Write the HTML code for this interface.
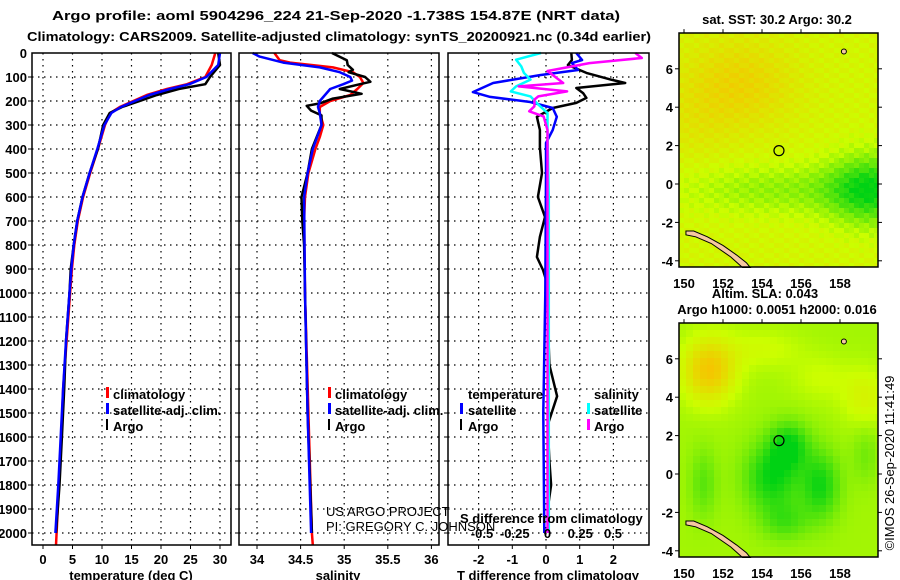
<!DOCTYPE html>
<html><head><meta charset="utf-8">
<style>
html,body{margin:0;padding:0;background:#fff;}
svg{display:block;font-family:"Liberation Sans",sans-serif;}
.b{font-weight:bold;font-size:13px;}
</style></head>
<body>
<svg id="chart" width="900" height="580" viewBox="0 0 900 580" xmlns="http://www.w3.org/2000/svg">
<text x="52" y="20" class="b" font-size="14" textLength="568" lengthAdjust="spacingAndGlyphs">Argo profile: aoml 5904296_224 21-Sep-2020 -1.738S 154.87E (NRT data)</text>
<text x="27" y="41" class="b" font-size="14" textLength="624" lengthAdjust="spacingAndGlyphs">Climatology: CARS2009. Satellite-adjusted climatology: synTS_20200921.nc (0.34d earlier)</text>
<g id="grid"></g>
<g id="marks"></g>
<g id="frames"></g>
<g id="labels"></g>
<g id="maps"></g>
<g class="b">
<rect x="106" y="387" width="3" height="11" fill="#f00"/>
<text x="113" y="399">climatology</text>
<rect x="106" y="403" width="3" height="11" fill="#00f"/>
<text x="113" y="415">satellite-adj. clim.</text>
<rect x="106" y="419" width="2" height="11" fill="#000"/>
<text x="113" y="431">Argo</text>
</g>
<g class="b">
<rect x="328" y="387" width="3" height="11" fill="#f00"/>
<text x="335" y="399">climatology</text>
<rect x="328" y="403" width="3" height="11" fill="#00f"/>
<text x="335" y="415">satellite-adj. clim.</text>
<rect x="328" y="419" width="2" height="11" fill="#000"/>
<text x="335" y="431">Argo</text>
</g>
<g class="b">
<text x="468" y="399">temperature</text>
<text x="594" y="399">salinity</text>
<rect x="460" y="403" width="3" height="11" fill="#00f"/>
<text x="468" y="415">satellite</text>
<rect x="460" y="419" width="2" height="11" fill="#000"/>
<text x="468" y="431">Argo</text>
<rect x="587" y="403" width="3" height="11" fill="#0ff"/>
<text x="594" y="415">satellite</text>
<rect x="587" y="419" width="3" height="11" fill="#f0f"/>
<text x="594" y="431">Argo</text>
</g>
<text x="326" y="516" font-size="13">US ARGO PROJECT</text>
<text x="326" y="531" font-size="13">PI: GREGORY C. JOHNSON</text>
<text x="460" y="523" class="b">S difference from climatology</text>
<text x="777" y="24" class="b" text-anchor="middle">sat. SST: 30.2 Argo: 30.2</text>
<text x="765" y="298" class="b" text-anchor="middle">Altim. SLA: 0.043</text>
<text x="777" y="314" class="b" text-anchor="middle">Argo h1000: 0.0051 h2000: 0.016</text>
<text transform="translate(894,463) rotate(-90)" font-size="13" text-anchor="middle">©IMOS 26-Sep-2020 11:41:49</text>
</svg>
<script>
// ---- Data ----
const tClimDepth=[0,50,100,130,150,175,200,225,250,300,400,500,600,700,800,900,1000,1200,1400,1600,1800,2000,2050];
const tClim=[29.2,28.6,27.5,24.4,21,17.6,15.3,13,11.4,10.5,9.3,8,6.8,5.9,5.3,4.9,4.6,4.0,3.4,3.1,2.7,2.3,2.2];
const tSatDepth=[0,50,100,130,150,175,200,225,250,300,400,500,600,700,800,900,1000,1200,1400,1600,1800,2000];
const tSat=[30.0,29.7,27.7,24.8,21.5,18,15.6,13.2,11.6,10.4,9.2,7.9,6.7,5.8,5.2,4.8,4.5,3.9,3.4,3.0,2.6,2.1];
const tArgoDepth=[0,50,100,130,150,175,200,225,250,300,400,500,600,700,800,900,1000,1200,1400,1600,1800,2000];
const tArgo=[29.7,30,28.3,27.5,23,19.3,16.4,13.4,11.3,10.2,9.3,7.9,6.7,5.8,5.2,4.7,4.5,3.9,3.6,3.2,2.8,2.2];

const sClimDepth=[0,30,40,60,80,100,125,150,175,200,225,250,300,350,400,500,600,700,1000,1500,2000,2050];
const sClim=[34.2,34.26,34.38,34.87,35.1,35.18,35.22,35.15,35.07,34.84,34.72,34.72,34.76,34.72,34.67,34.59,34.55,34.54,34.55,34.59,34.63,34.64];
const sSatDepth=[0,15,40,60,80,100,115,130,150,175,200,225,250,300,400,500,600,1000,1500,2000];
const sSat=[33.95,34.03,34.3,34.72,34.95,35.07,35.09,34.99,34.84,34.78,34.72,34.7,34.72,34.74,34.64,34.58,34.54,34.55,34.58,34.62];
const sArgoDepth=[0,30,50,70,80,100,120,130,150,170,190,210,220,240,260,300,400,500,600,700,800,1000,1500,2000];
const sArgo=[34.86,35.03,35.04,35.1,35.05,35.24,35.3,35.18,34.95,35.2,34.87,34.72,34.57,34.62,34.74,34.74,34.63,34.58,34.51,34.52,34.54,34.55,34.58,34.63];

const dtSatDepth=[0,29,42,71,92,125,163,183,204,229,266,321,375,500,1000,1500,2000];
const dtSat=[0.9,1.07,0.77,0.95,-0.18,-1.57,-2.17,-1.66,-0.47,0.2,0.32,0.2,0,0,-0.02,-0.08,-0.05];
const dtArgoDepth=[0,29,50,83,112,125,146,167,187,208,229,266,321,392,500,600,683,766,850,904,958,1100,1300,1430,1550,1700,1800,1900,2000];
const dtArgo=[0.75,0.77,0.65,1.2,1.96,2.35,0.9,1.1,1.2,0.9,0.2,-0.27,-0.18,-0.18,-0.12,-0.24,-0.03,-0.18,-0.27,-0.09,0.03,0.05,0.1,0.33,0.05,0.1,0.15,0.05,0.08];
const dsSatDepth=[0,28,56,83,111,139,160,181,215,250,320,600,1000,1500,2000];
const dsSat=[-0.05,-0.24,-0.2,-0.18,-0.13,-0.24,-0.28,-0.13,-0.07,0,0,0.01,0.01,0.01,0.01];
const dsArgoDepth=[0,21,42,75,96,125,139,160,181,194,222,243,264,321,600,1000,1500,2000];
const dsArgo=[0.67,0.72,0.32,0,0.05,0.12,-0.22,0.15,-0.07,-0.1,-0.1,-0.14,-0.03,0,0,0,0,0];

const depthTicks=[0,100,200,300,400,500,600,700,800,900,1000,1100,1200,1300,1400,1500,1600,1700,1800,1900,2000];
const tTicks=[0,5,10,15,20,25,30];
const sTicks=[34,34.5,35,35.5,36];
const sTickLabels=["34","34.5","35","35.5","36"];
const dtTicks=[-2,-1,0,1,2];
const dsTicks=[-0.5,-0.25,0,0.25,0.5];
const dsTickLabels=["-0.5","-0.25","0","0.25","0.5"];
const lonTicks=[150,152,154,156,158];
const latTicks=[6,4,2,0,-2,-4];
const argoLon=154.87, argoLat=1.738;

// ---- Scales ----
const NS="http://www.w3.org/2000/svg";
const yTop=53, bot=545;
const yD=d=>yTop+d*0.24;
const xT=t=>43+t*5.9;
const xS=s=>257+(s-34)*87.2;
const xDT=v=>546+v*33.7;
const xDS=v=>547.5+v*131;
const P=[[32,231],[239,439],[448,649]];
function el(tag,attrs,parent){const e=document.createElementNS(NS,tag);for(const k in attrs)e.setAttribute(k,attrs[k]);parent.appendChild(e);return e;}
const G=document.getElementById('grid'),M=document.getElementById('marks'),F=document.getElementById('frames'),L=document.getElementById('labels'),MP=document.getElementById('maps');

function vgrid(vals,fx,p){vals.forEach(v=>{const x=fx(v);if(x>p[0]+1&&x<p[1]-1){const l=el('line',{x1:x,x2:x,y1:yTop,y2:bot,stroke:'#000','stroke-dasharray':'1.5,4.5','stroke-width':1.2},G);}
 const t=el('line',{x1:x,x2:x,y1:bot,y2:bot+4,stroke:'#000'},G);});}
function line(depths,vals,fx,color,w,name){const pts=depths.map((d,i)=>fx(vals[i]).toFixed(1)+','+Math.min(bot,yD(d)).toFixed(1)).join(' ');
 const p=el('polyline',{points:pts,fill:'none',stroke:color,'stroke-width':w,'stroke-linejoin':'round'},M);}
const mx=lon=>684+(lon-150)*19.5;
function cmap(v){v=Math.max(0,Math.min(1,v));let r,g,b;
 if(v<0.5){const f=v/0.5;r=0+f*204;g=210+f*45;b=20-f*20;}else{const f=(v-0.5)/0.5;r=204+f*51;g=255-f*70;b=0;}
 return 'rgb('+(r|0)+','+(g|0)+','+(b|0)+')';}
function sq(x){return x*x;}
function gs(lon,lat,l0,a0,sl,sa){return Math.exp(-sq((lon-l0)/sl)-sq((lat-a0)/sa));}
function f1(lon,lat){return 0.56+0.25*gs(lon,lat,152.8,5.2,3,2.4)+0.08*gs(lon,lat,150.5,3,2,2)-0.2*gs(lon,lat,155,-0.3,5,1.3)-0.5*gs(lon,lat,159.6,-0.3,2.2,1.8)+0.05*Math.sin(lon*7.3+lat*11.1);}
function f2(lon,lat){return 0.40+0.5*gs(lon,lat,151.3,5.4,1.3,1.6)+0.18*gs(lon,lat,159.3,4,1.2,1.5)+0.12*gs(lon,lat,154,6.5,2,1)+0.1*gs(lon,lat,157,5,1.5,1.2)
 -0.38*gs(lon,lat,154.5,-0.2,1.4,1.8)-0.35*gs(lon,lat,157,-0.6,1,1.8)-0.35*gs(lon,lat,155.4,1.5,1,1.2)-0.2*gs(lon,lat,155.2,-2.5,1.2,1)-0.18*gs(lon,lat,151,-0.5,0.7,1.8)-0.12*gs(lon,lat,159.3,1,0.7,1.5);}
function drawMap(y0,f,cell,name){const my=lat=>y0-lat*19.2;const g=el('g',{},MP);
 for(let x=679;x<878;x+=cell)for(let y=33+(y0-184);y<267+(y0-184);y+=cell){const lon=150+(x+cell/2-684)/19.5,lat=(y0-(y+cell/2))/19.2;
  el('rect',{x:x,y:y,width:Math.min(cell,878-x)+0.3,height:Math.min(cell,267+(y0-184)-y)+0.3,fill:cmap(f(lon,lat))},g);}
 const coast=[[150.1,-2.45],[150.5,-2.45],[151.2,-2.75],[152,-3.2],[152.7,-3.7],[153.2,-4.1],[153.4,-4.35],[153.0,-4.35],[152.4,-3.8],[151.4,-3.1],[150.6,-2.75],[150.1,-2.65]];
 const c=el('polygon',{points:coast.map(p=>mx(p[0])+','+my(p[1])).join(' '),fill:'#f5c8a0',stroke:'#000','stroke-width':1},g);
 el('circle',{cx:mx(158.2),cy:my(6.9),r:2.5,fill:'#f5c8a0',stroke:'#000'},g);
 const r=el('rect',{x:679,y:33+(y0-184),width:199,height:234,fill:'none',stroke:'#000','stroke-width':1.5},g);
 const ci=el('circle',{cx:mx(argoLon),cy:my(argoLat),r:5,fill:'none',stroke:'#000','stroke-width':1.2},g);
 latTicks.forEach(v=>{const t=el('text',{x:673,y:my(v)+5,'text-anchor':'end',class:'b'},g);t.textContent=v;
  el('line',{x1:878,x2:882,y1:my(v),y2:my(v),stroke:'#000'},g);el('line',{x1:675,x2:679,y1:my(v),y2:my(v),stroke:'#000'},g);});
 lonTicks.forEach(v=>{const t=el('text',{x:mx(v),y:my(-4.32)+21,'text-anchor':'middle',class:'b'},g);t.textContent=v;
  el('line',{x1:mx(v),x2:mx(v),y1:my(7.86)-4,y2:my(7.86),stroke:'#000'},g);});}

try{
vgrid(tTicks,xT,P[0]);vgrid(sTicks,xS,P[1]);vgrid(dtTicks,xDT,P[2]);
P.forEach(p=>{depthTicks.forEach(d=>{if(d===0)return;const y=yD(d);
 const l=el('line',{x1:p[0],x2:p[1],y1:y,y2:y,stroke:'#000','stroke-dasharray':'1.5,4.5','stroke-width':1.2},G);
 const t=el('line',{x1:p[0]-4,x2:p[0],y1:y,y2:y,stroke:'#000'},G);});});
dsTicks.forEach((v,i)=>{const t=el('text',{x:xDS(v),y:538,'text-anchor':'middle',class:'b'},L);t.textContent=dsTickLabels[i];});

line(tClimDepth,tClim,xT,'#f00',2.5,'temperature-climatology-line');
line(tArgoDepth,tArgo,xT,'#000',2.5,'temperature-argo-line');
line(tSatDepth,tSat,xT,'#00f',2.5,'temperature-satellite-line');
line(sClimDepth,sClim,xS,'#f00',2.5,'salinity-climatology-line');
line(sArgoDepth,sArgo,xS,'#000',2.5,'salinity-argo-line');
line(sSatDepth,sSat,xS,'#00f',2.5,'salinity-satellite-line');
line(dtArgoDepth,dtArgo,xDT,'#000',2.5,'t-diff-argo-line');
line(dtSatDepth,dtSat,xDT,'#00f',2.5,'t-diff-satellite-line');
line(dsSatDepth,dsSat,xDS,'#0ff',2.5,'s-diff-satellite-line');
line(dsArgoDepth,dsArgo,xDS,'#f0f',2.5,'s-diff-argo-line');

P.forEach((p,i)=>{const r=el('rect',{x:p[0],y:yTop,width:p[1]-p[0],height:bot-yTop,fill:'none',stroke:'#000','stroke-width':1.5},F);});

depthTicks.forEach(d=>{const t=el('text',{x:27,y:yD(d)+5,'text-anchor':'end',class:'b'},L);t.textContent=d;});
function xlabels(vals,labs,fx){vals.forEach((v,i)=>{const t=el('text',{x:fx(v),y:564,'text-anchor':'middle',class:'b'},L);t.textContent=labs[i];});}
xlabels(tTicks,tTicks.map(String),xT);xlabels(sTicks,sTickLabels,xS);xlabels(dtTicks,dtTicks.map(String),xDT);
[['temperature (deg C)',131,'temperature-axis-title'],['salinity',338,'salinity-axis-title'],['T difference from climatology',548,'t-diff-axis-title']].forEach(a=>{const t=el('text',{x:a[1],y:580,'text-anchor':'middle',class:'b'},L);t.textContent=a[0];});

drawMap(184,f1,5,'sst-map');drawMap(474,f2,7,'sla-map');
}catch(e){console.log(e);}
</script>
</body></html>
